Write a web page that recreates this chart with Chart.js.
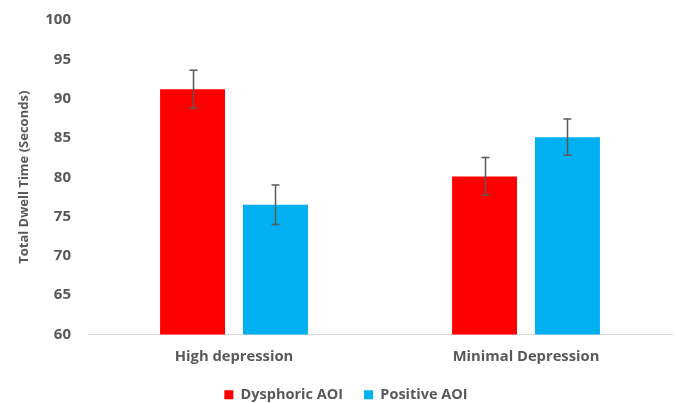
<!DOCTYPE html>
<html>
<head>
<meta charset="utf-8">
<script src="https://cdn.jsdelivr.net/npm/chart.js@4/dist/chart.umd.min.js"></script>
<style>
  html, body { margin: 0; padding: 0; background: #fff; }
  #wrap { width: 676px; height: 403px; }
</style>
</head>
<body>
<div id="wrap"><canvas id="c" width="676" height="403"></canvas></div>
<script>
// Groups and series
const categories = ['High depression', 'Minimal Depression'];
const dysphoricValues = [91.2, 80.1];
const positiveValues = [76.5, 85.1];
// Standard error half-widths for each bar
const dysphoricErrors = [2.4, 2.4];
const positiveErrors = [2.5, 2.3];
const yTicks = [60, 65, 70, 75, 80, 85, 90, 95, 100];

const textColor = '#595959';
const fontFamily = '"Open Sans", "Liberation Sans", sans-serif';

// Draws the error whiskers on top of each bar using the chart's own scales
const errorBars = {
  id: 'errorBars',
  afterDatasetsDraw(chart) {
    const ctx = chart.ctx;
    const y = chart.scales.y;
    chart.data.datasets.forEach((ds, i) => {
      const meta = chart.getDatasetMeta(i);
      meta.data.forEach((bar, j) => {
        const v = ds.data[j], e = ds.errors[j];
        const yTop = y.getPixelForValue(v + e);
        const yBot = y.getPixelForValue(v - e);
        const x = Math.round(bar.x) + 0.5;
        ctx.save();
        ctx.strokeStyle = '#595959';
        ctx.lineWidth = 1.5;
        ctx.beginPath();
        ctx.moveTo(x, yTop); ctx.lineTo(x, yBot);
        ctx.moveTo(x - 4, yTop); ctx.lineTo(x + 4, yTop);
        ctx.moveTo(x - 4, yBot); ctx.lineTo(x + 4, yBot);
        ctx.stroke();
        ctx.restore();
      });
    });
  }
};

new Chart(document.getElementById('c'), {
  type: 'bar',
  data: {
    labels: categories,
    datasets: [
      { label: 'Dysphoric AOI', data: dysphoricValues, errors: dysphoricErrors,
        backgroundColor: '#FF0000', categoryPercentage: 0.568, barPercentage: 0.783 },
      { label: 'Positive AOI', data: positiveValues, errors: positiveErrors,
        backgroundColor: '#00B0F0', categoryPercentage: 0.568, barPercentage: 0.783 }
    ]
  },
  options: {
    responsive: false,
    animation: false,
    devicePixelRatio: 1,
    layout: { padding: { top: 20, right: 4, left: 20, bottom: -9 } },
    plugins: {
      legend: {
        position: 'bottom',
        labels: {
          color: textColor,
          font: { family: fontFamily, size: 14.5, weight: 'bold' },
          boxWidth: 9, boxHeight: 9, padding: 21
        }
      },
      tooltip: { enabled: false }
    },
    scales: {
      x: {
        afterFit(scale) { scale.height = 32; },
        grid: { display: false, drawTicks: false },
        border: { display: true, color: '#D9D9D9', width: 1 },
        ticks: {
          color: textColor, padding: 13.5,
          font: { family: fontFamily, size: 14.75, weight: 'bold' }
        }
      },
      y: {
        min: 60, max: 100,
        afterBuildTicks(scale) { scale.ticks = yTicks.map(v => ({ value: v })); },
        afterFit(scale) {
          scale.width = 68;
          scale.paddingTop = 0;
          scale.paddingBottom = 0;
        },
        grid: { display: false, drawTicks: false },
        border: { display: false },
        ticks: {
          color: textColor, padding: 17,
          font: { family: fontFamily, size: 15, weight: 'bold' }
        },
        title: {
          display: true, text: 'Total Dwell Time (Seconds)', color: textColor,
          font: { family: fontFamily, size: 13, weight: 'bold' },
          padding: { top: -4, bottom: 0 }
        }
      }
    }
  },
  plugins: [errorBars]
});
</script>
</body>
</html>
